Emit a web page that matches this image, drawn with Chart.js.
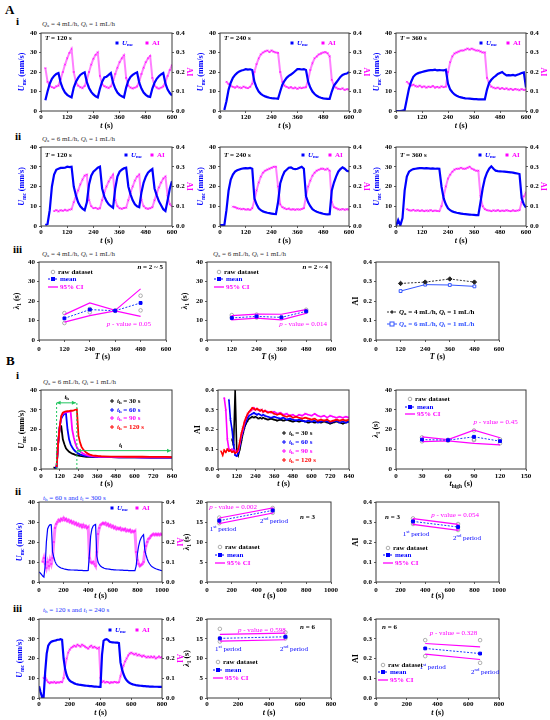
<!DOCTYPE html>
<html><head><meta charset="utf-8">
<script src="https://cdn.jsdelivr.net/npm/chart.js@4.4.1/dist/chart.umd.min.js"></script>
<style>
html,body{margin:0;padding:0;background:#fff;}
body{width:550px;height:720px;position:relative;overflow:hidden;font-family:"Liberation Serif","Times New Roman",serif;}
.pl{position:absolute;font-weight:bold;color:#000;line-height:1;}
.st{position:absolute;font-size:7px;color:#333;line-height:1;white-space:nowrap;}
.st sub{font-size:5px;vertical-align:-1px;line-height:0;}
.bl{color:#2233ff;}
canvas{position:absolute;}
</style></head><body>
<div class="pl" style="left:5px;top:3px;font-size:13px">A</div>
<div class="pl" style="left:16px;top:16px;font-size:11px">i</div>
<div class="st" style="left:42px;top:21px"><i>Q</i><sub>a</sub> = 4 mL/h, <i>Q</i><sub>i</sub> = 1 mL/h</div>
<div class="pl" style="left:15px;top:131px;font-size:11px">ii</div>
<div class="st" style="left:42px;top:136px"><i>Q</i><sub>a</sub> = 6 mL/h, <i>Q</i><sub>i</sub> = 1 mL/h</div>
<div class="pl" style="left:13px;top:244px;font-size:11px">iii</div>
<div class="st" style="left:42px;top:251px"><i>Q</i><sub>a</sub> = 4 mL/h, <i>Q</i><sub>i</sub> = 1 mL/h</div>
<div class="st" style="left:213px;top:251px"><i>Q</i><sub>a</sub> = 6 mL/h, <i>Q</i><sub>i</sub> = 1 mL/h</div>
<div class="pl" style="left:6px;top:354px;font-size:13px">B</div>
<div class="pl" style="left:16px;top:370px;font-size:11px">i</div>
<div class="st" style="left:43px;top:379px"><i>Q</i><sub>a</sub> = 6 mL/h, <i>Q</i><sub>i</sub> = 1 mL/h</div>
<div class="pl" style="left:15px;top:486px;font-size:11px">ii</div>
<div class="st bl" style="left:43px;top:495px"><i>t</i><sub>h</sub> = 60 s and <i>t</i><sub>l</sub> = 300 s</div>
<div class="pl" style="left:13px;top:603px;font-size:11px">iii</div>
<div class="st bl" style="left:43px;top:607px"><i>t</i><sub>h</sub> = 120 s and <i>t</i><sub>l</sub> = 240 s</div>
<script>
// ---------------- DATA ----------------
const T1000=[0,10,20,30,40,50,60,70,80,90,100,110,120,130,140,150,160,170,180,190,200,210,220,230,240,250,260,270,280,290,300,310,320,330,340,350,360,370,380,390,400,410,420,430,440,450,460,470,480,490,500,510,520,530,540,550,560,570,580,590,600,610,620,630,640,650,660,670,680,690,700,710,720,730,740,750,760,770,780,790,800,810,820,830,840,850,860,870,880,890,900,910,920,930,940,950,960,970,980,990,1000];
const T600=T1000.slice(0,61), T800=T1000.slice(0,81);

// A-i  Qa=4, T=120/240/360
const a1U=[null,null,5.5,10,14,16.5,18,19,19.5,14.5, 11.5,9.5,8.3,7.5,7,12,15,17,18.5,19.3, 19.8,14.8,11.8,9.8,8.5,7.5,7,11.5,15,17.2, 17.6,18.5,19.5,14.5,11.5,9.5,8.3,7.5,7,12, 15.5,17.5,18.5,19.3,19.8,14.5,11.5,9.5,8.3,7.5, 7.2,11.5,14.5,16.5,17.8,18.8,19.5,14,11,9.2, 8];
const a1A=[null,null,0.22,0.15,0.13,0.122,0.118,0.126,0.13,0.165, 0.2,0.238,0.27,0.298,0.318,0.2,0.148,0.13,0.122,0.118, 0.128,0.16,0.2,0.238,0.268,0.288,0.3,0.18,0.138,0.127, 0.122,0.118,0.126,0.152,0.19,0.222,0.25,0.27,0.285,0.17, 0.13,0.12,0.116,0.12,0.126,0.152,0.19,0.222,0.25,0.27, 0.282,0.17,0.13,0.12,0.115,0.12,0.126,0.15,0.18,0.21, 0.235];
const a2U=[null,null,0.5,5,11,14.5,17,18.5,19.5,20.3, 20.8,21,21.5,21.2,21.4,21,15,12,10,8.8, 8,7.5,7.1,6.8,6.6,6.5,6.4,6.3,10,13.5, 15.5,17,18,18.7,19.5,20.5,21.5,21.5,21.3,21.5, 21,15,12,10,8.7,7.8,7.2,6.8,6.5,6.3, 6.2,6.2,10,13,14.5,16,17.5,18.5,19,19.2, 20];
const a2A=[null,null,null,0.15,0.138,0.13,0.124,0.12,0.126,0.12, 0.118,0.125,0.12,0.117,0.124,0.14,0.2,0.24,0.27,0.29, 0.3,0.306,0.31,0.302,0.31,0.304,0.3,0.298,0.2,0.15, 0.13,0.124,0.118,0.122,0.116,0.12,0.114,0.12,0.117,0.12, 0.122,0.16,0.21,0.245,0.27,0.28,0.29,0.295,0.3,0.302, 0.296,0.28,0.16,0.13,0.12,0.114,0.112,0.116,0.108,0.112, 0.11];
const a3U=[0,0,0,0.2,0.5,6,11.5,15,17.5,18.7, 19.3,19.7,20,20.3,20.6,20.8,21,21,21.2,20.8, 21,20.9,20.8,21.2,14,11,9.6,8.5,7.8,7.3, 7,6.7,6.5,6.4,6.3,6.2,6.1,6.1,6,6, 6,6,11,14.5,16,17.2,18,19,19.5,20, 19,18.3,18.4,18.3,18.5,18.2,18.6,19,19.5,19.8, 12];
const a3A=[null,null,null,null,null,0.15,0.14,0.13,0.135,0.128, 0.125,0.13,0.122,0.126,0.12,0.125,0.122,0.128,0.12,0.124, 0.12,0.126,0.122,0.125,0.2,0.25,0.28,0.295,0.3,0.305, 0.31,0.31,0.315,0.32,0.315,0.32,0.315,0.31,0.31,0.305, 0.3,0.3,0.17,0.14,0.125,0.12,0.116,0.12,0.113,0.118, 0.112,0.116,0.11,0.114,0.108,0.113,0.11,0.107,0.112,0.108, 0.11];
// A-ii  Qa=6
const b1U=[null,null,0.5,1,8,20,26,28.5,29,29.4, 29.4,29.5,30,29.8,30,20,15.5,12,10,8.8, 8,12,21,25.5,27.5,28.5,29.5,30,19,15, 12.6,11,10,9.2,19,25,27.5,28.5,29.2,29.5, 20,16,13,11,10,9.5,17,22,25,27, 28,28.8,19,15.5,12.5,10.5,8.5,7.6,13,19, 22.7];
const b1A=[null,null,null,null,null,null,0.075,0.08,0.074,0.08, 0.077,0.082,0.078,0.083,0.085,0.12,0.15,0.18,0.21,0.235, 0.255,0.26,0.13,0.1,0.09,0.092,0.087,0.09,0.13,0.17, 0.2,0.225,0.245,0.26,0.13,0.1,0.09,0.087,0.091,0.093, 0.13,0.17,0.2,0.23,0.25,0.26,0.13,0.1,0.09,0.087, 0.09,0.095,0.13,0.165,0.195,0.22,0.24,0.25,0.15,0.11, 0.1];
const b2U=[0.5,0.5,0.3,8,18,23.5,26,27.5,28.2,28.6, 29,29.2,29.3,29.2,29.4,29,14,11,9,8, 7.4,7,6.7,6.5,6.3,6.1,6,12,21.5,25, 27.5,28.5,29.5,29.7,29,28.8,29,29.5,30,29, 15,12,10,8.5,7.8,7.2,6.8,6.5,6.2,6, 5.9,6,18,22,25,27.5,28.8,29.7,29,28, 27.6];
const b2A=[null,null,null,null,null,null,0.098,0.095,0.09,0.088, 0.085,0.087,0.083,0.085,0.082,0.09,0.13,0.18,0.22,0.25, 0.27,0.28,0.285,0.29,0.295,0.3,0.3,0.2,0.11,0.095, 0.09,0.085,0.088,0.083,0.085,0.082,0.085,0.083,0.086,0.09, 0.15,0.2,0.23,0.255,0.27,0.28,0.285,0.29,0.29,0.285, 0.29,0.28,0.12,0.095,0.09,0.085,0.083,0.086,0.082,0.085, 0.083];
const b3U=[0,3,0.3,4,18,25,27.5,28.3,28.8,29, 29.2,29.3,29.3,29.2,29.3,29.2,29.1,29.2,29,29.1, 29,20,14,11,9,8,7.4,7,6.7,6.5, 6.3,6.1,6,5.9,5.8,5.7,5.6,5.5,5.5,12, 19,24,27,29,30.2,29,28,27.8,27.7,27.6, 27.5,27.4,27.3,27.2,27,26.8,26.6,26.3,14,11, 9.3];
const b3A=[null,null,null,null,null,0.085,0.08,0.078,0.082,0.077, 0.08,0.076,0.079,0.075,0.078,0.076,0.08,0.075,0.078,0.076, 0.075,0.1,0.15,0.2,0.24,0.26,0.275,0.285,0.29,0.29, 0.295,0.29,0.29,0.295,0.3,0.29,0.285,0.28,0.28,0.15, 0.1,0.085,0.08,0.078,0.075,0.079,0.076,0.08,0.075,0.078, 0.076,0.08,0.077,0.075,0.079,0.076,0.078,0.08,0.12,0.15, 0.17];
// A-iii
const Tset=[120,240,360,480];
const lam4Mean=[11.1,15.6,15.0,19.0], lam4Up=[13,19,15.2,26.2], lam4Lo=[9.2,12.5,14.9,12.1];
const lam4RawT=[120,120,240,240,360,360,480,480], lam4Raw=[13.8,8.7,15.9,14.2,15.2,14.9,22.7,15.2];
const lam6Mean=[11.3,12.1,11.6,14.7], lam6Up=[12.5,13.3,13.2,15.6], lam6Lo=[10.3,11.2,10.3,13.7];
const lam6RawT=[120,120,240,240,360,480,480], lam6Raw=[12.8,11.5,13,11.5,11.6,15.5,14.5];
const aiQa4=[0.29,0.297,0.313,0.297], aiQa6=[0.251,0.284,0.282,0.275];
// B-i
const tBi1=[80,90,100,110,120,130,140,150,160,170,180,190,200,210,220,230,240,250,260,270,280,290,300,310,320,330,340,350,360,370,380,390,400,450,500,550,600,650,700,750,800,840];
const uTh30=[0.8,0.5,1,13,21,21.5,15,12.5,10.5,9.5, 8.7,8.2,7.8,7.5,7.2,7,6.8,6.6,6.5,6.4, 6.3,6.2,6.2,6.1,6.1,6.1,6,6,6,6, 6,6,6, 6,5.9,5.9,5.9,5.9,5.8,5.8,5.9,5.8];
const uTh60=[null,0.5,1,13,21.5,25.5,27,28,28.3,20, 15,12.5,11,9.8,9,8.3,7.8,7.4,7.1,6.9, 6.7,6.6,6.5,6.4,6.3,6.3,6.2,6.2,6.1,6.1, 6.1,6,6, 6,5.9,5.9,5.9,5.8,5.8,5.8,5.8,5.8];
const uTh90=[null,null,1,13,21.5,26.5,28,28.5,28.7,28.8, 29,29.2,20,16,13,11,9.8,9,8.3,7.8, 7.4,7.1,6.9,6.7,6.6,6.5,6.4,6.3,6.3,6.2, 6.2,6.1,6.1, 6.1,6,6,6,5.9,5.9,5.9,5.9,5.9];
const uTh120=[null,null,1,13,21.5,27,28.5,29,29.2,29.3, 29.3,29.5,29.5,29.7,30,30.2,17,13.5,11.2,10, 9,8.3,7.8,7.4,7.1,6.9,6.8,6.7,6.6,6.5, 6.5,6.4,6.4, 6.3,6.3,6.2,6.2,6.2,6.1,6.1,6.1,6];
const tBi2=[20,30,40,50,60,70,80,90,100,110,120,130,140,150,160,170,180,190,200,210,220,230,240,250,260,270,280,290,300,320,340,360,380,400,420,440,460,480,500,520,540,560,580,600,620,640,660,680,700,720,740,760,780,800,820,840];
const aiTh120=[0.09,0.07,0.095,0.085,0.1,0.09,0.095,0.085,0.09,0.08, 0.085,0.1,0.14,0.18,0.21,0.24,0.26,0.28,0.29,0.3, 0.31,0.305,0.3,0.305,0.3,0.295,0.3,0.29,0.295, 0.285,0.29,0.28,0.275,0.28,0.27,0.265,0.27,0.26,0.265, 0.26,0.255,0.26,0.255,0.25,0.255,0.245,0.25,0.245,0.25, 0.24,0.245,0.25,0.245,0.25,0.245,0.25];
const aiTh90=[null,null,0.36,0.3,0.15,0.1,0.095,0.1,0.09,0.095, 0.085,0.09,0.13,0.17,0.2,0.235,0.26,0.275,0.29,0.295, 0.3,0.31,0.3,0.305,0.3,0.295,0.3,0.29,0.295, 0.29,0.285,0.29,0.28,0.285,0.275,0.28,0.27,0.275,0.265, 0.275,0.27,0.28,0.275,0.27,0.28,0.27,0.265,0.27,0.26, 0.27,0.265,0.26,0.265,0.26,0.265,0.26];
const aiTh60=[null,null,null,null,null,0.35,0.25,0.2,0.12,0.07, 0.065,0.08,0.12,0.16,0.19,0.22,0.24,0.26,0.27,0.275, 0.28,0.285,0.28,0.275,0.28,0.275,0.27,0.275,0.27, 0.265,0.26,0.265,0.26,0.255,0.26,0.25,0.255,0.25,0.245, 0.25,0.245,0.24,0.245,0.24,0.245,0.235,0.24,0.245,0.24, 0.235,0.24,0.245,0.235,0.24,0.235,0.24];
const aiTh30=[null,null,null,null,null,null,null,0.15,0.12,0.4, 0.1,0.07,0.1,0.14,0.18,0.21,0.23,0.245,0.255,0.26, 0.265,0.26,0.265,0.26,0.255,0.26,0.255,0.26,0.255, 0.25,0.255,0.25,0.245,0.25,0.245,0.25,0.245,0.24,0.245, 0.24,0.245,0.24,0.235,0.24,0.235,0.24,0.235,0.24,0.235, 0.23,0.235,0.24,0.235,0.23,0.235,0.24];
const tHigh=[30,60,90,120];
const lamHMean=[14.9,14.6,16.3,14.1], lamHUp=[16.3,14.9,19.7,15.8], lamHLo=[13.9,14.2,13.0,12.2];
const lamHRawT=[30,30,60,60,90,90,90,120,120], lamHRaw=[16,14,14.8,14.3,19.5,15,14.6,15,13];
// B-ii  th=60, tl=300
const c2U=[5,4.5,3.8,3,2.5,8,20,26.5,28,28.7, 28.6,15,12.5,10.3,9,8.2,7.7,7.3,7,6.8, 6.6,6.4,6.3,6.2,6.1,6.1,6,6,6,5.9, 5.9,5.9,5.8,5.8,5.8,5.8,5.7,5.7,5.7,5.7, 5.8,14,23,26.5,28,28.5,28.8,13,10,8.8, 8,7.5,7.2,6.9,6.7,6.6,6.5,6.4,6.3,6.2, 6.2,6.1,6.1,6,6,6,5.9,5.9,5.9,5.8, 5.8,5.8,5.8,5.7,5.7,5.7,5.7,5.7,5.7,8, 14,18,20.5,22,23,23.7,16,13.5,11.5,10, 9,8.2,7.6,7.2,6.9,6.6,6.4,6.2,6,5.8, 5.7];
const c2A=[null,null,null,0.1,0.12,0.09,0.07,0.1,0.08,0.11, 0.09,0.12,0.2,0.27,0.29,0.3,0.31,0.305,0.315,0.31, 0.32,0.31,0.315,0.305,0.31,0.3,0.305,0.295,0.3,0.29, 0.295,0.285,0.29,0.28,0.285,0.275,0.285,0.275,0.28,0.27, 0.275,0.12,0.1,0.095,0.1,0.09,0.08,0.15,0.24,0.27, 0.285,0.29,0.295,0.29,0.295,0.285,0.29,0.28,0.285,0.275, 0.28,0.27,0.275,0.265,0.27,0.265,0.27,0.26,0.265,0.26, 0.265,0.255,0.26,0.255,0.26,0.25,0.255,0.25,0.255,0.15, 0.11,0.09,0.08,0.085,0.09,0.1,0.15,0.18,0.2,0.215, 0.22,0.23,0.235,0.24,0.235,0.24,0.235,0.24,0.235,0.24, 0.235];
const per2T=[99,530], per2Mean=[15.33,17.9], per2Up=[16,18.5], per2Lo=[14.6,17.25];
const per2RawT=[99,99,99,530,530,530], per2Raw=[16.1,15.3,14.7,18.5,17.9,17.3];
const per2AT=[301,667], per2AMean=[0.303,0.275], per2AUp=[0.317,0.288], per2ALo=[0.288,0.258];
const per2ARawT=[301,301,301,667,667,667], per2ARaw=[0.318,0.303,0.29,0.29,0.275,0.26];
// B-iii th=120, tl=240
const c3U=[6,3,0.5,0.5,13,22.5,26.5,27.8,28.5,28.8, 29,29.2,29.5,29.5,29.8,29.5,20,14.5,11.5,9.8, 8.8,8.2,7.8,7.4,7.1,6.9,6.7,6.6,6.5,6.4, 6.3,6.2,6.1,6,6,5.9,5.8,5.8,5.7,5.6, 5.6,22,29,29.6,29.8,29.3,28.5,28.3,28.2,28.1, 28,28,27.8,18,14.5,12,10.2,9,8.2,7.6, 7.2,6.9,6.7,6.5,6.4,6.3,6.2,6.1,6,6, 5.9,5.9,5.8,5.8,5.8,5.7,5.7,5.7,5.6,5.6, 5.6];
const c3A=[null,null,null,0.1,0.11,0.09,0.08,0.075,0.08,0.078, 0.082,0.076,0.08,0.078,0.082,0.08,0.1,0.16,0.2,0.23, 0.245,0.255,0.26,0.265,0.26,0.27,0.265,0.26,0.27,0.265, 0.26,0.255,0.25,0.26,0.265,0.255,0.26,0.255,0.25,0.255, 0.1,0.08,0.085,0.078,0.082,0.08,0.075,0.08,0.078,0.082, 0.08,0.078,0.08,0.11,0.14,0.165,0.185,0.2,0.215,0.225, 0.23,0.225,0.22,0.225,0.215,0.22,0.215,0.21,0.215,0.21, 0.205,0.21,0.205,0.21,0.205,0.21,0.2,0.205,0.21,0.205, 0.208];
const per3T=[83,506], per3Mean=[15.1,15.5], per3Up=[16.1,16.4], per3Lo=[14.4,14.75];
const per3RawT=[83,83,83,506,506,506], per3Raw=[17.5,15.1,14.3,16.6,15.5,15.1];
const per3AT=[320,677], per3AMean=[0.251,0.225], per3AUp=[0.276,0.259], per3ALo=[0.222,0.195];
const per3ARawT=[320,320,677,677], per3ARaw=[0.293,0.212,0.293,0.178];
// annotation values for B-i (t_h / t_l spans)
const thSpan=[100,230], thY=33.5, tlSpan=[230,840], tlY=9.3;

// ---------------- HELPERS ----------------
const F='"Liberation Serif","Times New Roman",serif';
const BLUE='#0000ff', MAG='#ff00ff', RED='#ff0000', GRN='#22c55e';
function parseRich(str){const segs=[];let i=0,it=false,buf='';
 const push=()=>{if(buf){segs.push({t:buf,i:it});buf='';}};
 while(i<str.length){const ch=str[i];
  if(ch==='*'){push();it=!it;i++;}
  else if((ch==='_'||ch==='^')&&str[i+1]==='{'){push();const j=str.indexOf('}',i);const s={t:str.slice(i+2,j),i:it};s[ch==='_'?'sub':'sup']=true;segs.push(s);i=j+1;}
  else{buf+=ch;i++;}}
 push();return segs;}
function drawRich(ctx,x,y,str,o){o=o||{};const size=o.size||7,bold=o.bold!==false,segs=parseRich(str);
 const font=s=>(s.i?'italic ':'')+(bold?'bold ':'')+((s.sub||s.sup)?(size*0.68).toFixed(1):size)+'px '+F;
 ctx.save();ctx.translate(x,y);if(o.rot)ctx.rotate(o.rot*Math.PI/180);
 let w=0;segs.forEach(s=>{ctx.font=font(s);w+=ctx.measureText(s.t).width;});
 let cx=o.al==='c'?-w/2:o.al==='r'?-w:0;ctx.textBaseline='middle';ctx.fillStyle=o.c||'#000';
 segs.forEach(s=>{ctx.font=font(s);const dy=s.sub?size*0.3:s.sup?-size*0.32:0;ctx.fillText(s.t,cx,dy);cx+=ctx.measureText(s.t).width;});
 ctx.restore();}
function marker(ctx,m,x,y,c){ctx.save();ctx.strokeStyle=c||'#000';ctx.fillStyle=c||'#000';ctx.lineWidth=1;
 if(m==='sq'){ctx.fillRect(x-1.5,y-1.5,3,3);}
 else if(m==='plus'){ctx.beginPath();ctx.moveTo(x-2,y);ctx.lineTo(x+2,y);ctx.moveTo(x,y-2);ctx.lineTo(x,y+2);ctx.stroke();}
 else if(m==='circ'){ctx.strokeStyle='#999';ctx.lineWidth=0.8;ctx.beginPath();ctx.arc(x,y,1.8,0,7);ctx.stroke();}
 else if(m==='mean'){ctx.setLineDash([2,1.5]);ctx.beginPath();ctx.moveTo(x-5,y);ctx.lineTo(x+5,y);ctx.stroke();ctx.setLineDash([]);ctx.fillRect(x-2,y-2,4,4);}
 else if(m==='ci'){ctx.lineWidth=1.3;ctx.beginPath();ctx.moveTo(x-5,y);ctx.lineTo(x+5,y);ctx.stroke();}
 else if(m==='dd'){ctx.setLineDash([2,1.5]);ctx.beginPath();ctx.moveTo(x-5,y);ctx.lineTo(x+5,y);ctx.stroke();ctx.setLineDash([]);ctx.beginPath();ctx.moveTo(x,y-2);ctx.lineTo(x+2,y);ctx.lineTo(x,y+2);ctx.lineTo(x-2,y);ctx.closePath();ctx.fill();}
 else if(m==='ls'){ctx.beginPath();ctx.moveTo(x-5,y);ctx.lineTo(x+5,y);ctx.stroke();ctx.fillStyle='#fff';ctx.fillRect(x-2,y-2,4,4);ctx.strokeRect(x-2,y-2,4,4);}
 ctx.restore();}
// span annotations (drawn from data values through the chart's scales)
function drawSpans(ctx,sc){const X=v=>sc.x.getPixelForValue(v),Y=v=>sc.y.getPixelForValue(v);
 ctx.save();ctx.strokeStyle=GRN;ctx.fillStyle=GRN;ctx.lineWidth=1;ctx.setLineDash([2,2]);
 thSpan.forEach(v=>{ctx.beginPath();ctx.moveTo(X(v),Y(0));ctx.lineTo(X(v),Y(thY));ctx.stroke();});
 ctx.setLineDash([]);
 [[thSpan,thY],[tlSpan,tlY]].forEach(([sp,yy])=>{const x1=X(sp[0]),x2=X(sp[1])-1,y=Y(yy);ctx.beginPath();ctx.moveTo(x1,y);ctx.lineTo(x2,y);ctx.stroke();
  [[x1,1],[x2,-1]].forEach(([x,d])=>{ctx.beginPath();ctx.moveTo(x,y);ctx.lineTo(x+4*d,y-2);ctx.lineTo(x+4*d,y+2);ctx.closePath();ctx.fill();});});
 ctx.restore();}
const deco={id:'deco',afterDatasetsDraw(chart){
 const o=chart.options.plugins.deco;if(!o)return;const ctx=chart.ctx,a=chart.chartArea,sc=chart.scales;
 ctx.save();
 if(o.spans)drawSpans(ctx,sc);
 ctx.strokeStyle='#3a3a3a';ctx.lineWidth=1;ctx.strokeRect(a.left,a.top,a.right-a.left,a.bottom-a.top);
 const my=(a.top+a.bottom)/2,mx=(a.left+a.right)/2;
 if(o.tl)drawRich(ctx,a.left-(o.tl.d||20),my,o.tl.s,{rot:-90,al:'c',c:o.tl.c,size:8});
 if(o.tr)drawRich(ctx,a.right+(o.tr.d||17),my,o.tr.s,{rot:90,al:'c',c:o.tr.c,size:8});
 if(o.tb)drawRich(ctx,mx,a.bottom+(o.tb.d||15),o.tb.s,{al:'c',size:8});
 (o.texts||[]).forEach(t=>{let x,y;if(t.ax){x=sc.x.getPixelForValue(t.x);y=sc[t.ax].getPixelForValue(t.y);}else{x=t.px<0?a.right+t.px:a.left+t.px;y=a.top+t.py;}
  drawRich(ctx,x,y,t.s,{al:t.al||'l',c:t.c,size:t.size||7,bold:t.b});});
 (o.legend||[]).forEach(l=>{const x=a.left+l.dx,y=a.top+l.dy;marker(ctx,l.m,x,y,l.c);drawRich(ctx,x+(l.tx||5),y,l.s,{c:l.tc||'#000',size:7});});
 ctx.restore();}};
Chart.register(deco);
const tickFont={family:F,size:7,weight:'bold'};
const gridT={display:true,drawOnChartArea:false,drawTicks:true,tickLength:2,color:'#333',lineWidth:0.8};
function xs(max,step,pad){return {type:'linear',min:0,max:max,ticks:{stepSize:step,font:tickFont,color:'#000',padding:pad||0,maxRotation:0,autoSkip:false,callback:v=>String(Math.round(v))},grid:gridT,border:{display:false},afterFit(s){s.height=24;}};}
function ys(max,step,dec,pos){return {type:'linear',position:pos,min:0,max:max,ticks:{stepSize:step,font:tickFont,color:'#000',padding:2,autoSkip:false,callback:v=>dec?Number(v).toFixed(dec):String(Math.round(v))},grid:gridT,border:{display:false},afterFit(s){s.width=40;}};}
const ser=(xa,ya)=>xa.map((x,i)=>({x:x,y:(ya[i]===undefined?null:ya[i])}));
function mk(box,datasets,scales,dec){const [L,T,R,B]=box;const cv=document.createElement('canvas');
 const W=(R-L)+80,H=(B-T)+8+24;cv.width=W;cv.height=H;cv.style.left=(L-40)+'px';cv.style.top=(T-8)+'px';cv.style.width=W+'px';cv.style.height=H+'px';
 document.body.appendChild(cv);
 new Chart(cv,{type:'scatter',data:{datasets:datasets},options:{responsive:false,animation:false,events:[],
  layout:{padding:{left:0,top:8,right:scales.y1?0:40,bottom:0}},scales:scales,
  plugins:{legend:{display:false},tooltip:{enabled:false},deco:dec}}});}
function uSet(t,u,w){return {data:ser(t,u),yAxisID:'y',showLine:true,borderColor:BLUE,borderWidth:w||2.2,pointRadius:0};}
function aSet(t,v,w){return {data:ser(t,v),yAxisID:'y1',showLine:true,borderColor:'rgba(255,0,255,0.5)',borderWidth:w||2,pointRadius:1.2,pointStyle:'crossRot',pointBorderColor:MAG,pointBorderWidth:0.7};}
function tsChart(box,o){
 mk(box,[uSet(o.t,o.U,o.uw),aSet(o.t,o.A,o.aw)],{x:xs(o.xmax,o.xstep,o.xtp),y:ys(40,10,0,'left'),y1:ys(0.4,0.1,1,'right')},
  {tl:{s:'*U*_{mc} (mm/s)',c:BLUE,d:19},tr:{s:'AI',c:MAG},tb:{s:'*t* (s)',d:o.tbd||15},texts:o.texts||[],
   legend:[{m:'sq',c:BLUE,dx:o.lx[0],dy:o.ly,s:'*U*_{mc}',tc:BLUE},{m:'sq',c:MAG,dx:o.lx[1],dy:o.ly,s:'AI',tc:MAG}]});}
function statSets(x,mean,up,lo,rx,ry,closed){const d=[
 {data:ser(x,mean),showLine:true,borderColor:'#1a3cff',borderDash:[2,1.5],borderWidth:1,pointRadius:2,pointStyle:'rect',pointBackgroundColor:BLUE,pointBorderColor:BLUE}];
 if(closed){const rx2=x.slice().reverse(),lo2=lo.slice().reverse();
  d.push({data:ser(x.concat(rx2,[x[0]]),up.concat(lo2,[up[0]])),showLine:true,borderColor:MAG,borderWidth:1.2,pointRadius:0});}
 else{d.push({data:ser(x,up),showLine:true,borderColor:MAG,borderWidth:1.2,pointRadius:0});
  d.push({data:ser(x,lo),showLine:true,borderColor:MAG,borderWidth:1.2,pointRadius:0});}
 if(rx)d.push({data:ser(rx,ry),showLine:false,pointRadius:1.8,pointStyle:'circle',pointBorderColor:'#9a9a9a',pointBackgroundColor:'rgba(0,0,0,0)',pointBorderWidth:0.8});
 return d;}
function statLegend(dx,dys){return [{m:'circ',dx:dx,dy:dys[0],s:'raw dataset'},{m:'mean',c:BLUE,dx:dx,dy:dys[1],s:'mean',tc:BLUE,tx:7},{m:'ci',c:MAG,dx:dx,dy:dys[2],s:'95% CI',tc:MAG,tx:7}];}

// ---------------- A-i ----------------
tsChart([41,33,172,111],{t:T600,U:a1U,A:a1A,xmax:600,xstep:120,lx:[76,106],ly:10,texts:[{s:'*T* = 120 s',px:4,py:5}]});
tsChart([220,33,349,111],{t:T600,U:a2U,A:a2A,xmax:600,xstep:120,lx:[72,103],ly:10,texts:[{s:'*T* = 240 s',px:4,py:5}]});
tsChart([396,33,526,111],{t:T600,U:a3U,A:a3A,xmax:600,xstep:120,lx:[85,112],ly:10,texts:[{s:'*T* = 360 s',px:4,py:5}]});
// ---------------- A-ii ----------------
tsChart([41,147,172,226],{t:T600,U:b1U,A:b1A,xmax:600,xstep:120,lx:[85,111],ly:8,texts:[{s:'*T* = 120 s',px:4,py:8}]});
tsChart([220,147,349,226],{t:T600,U:b2U,A:b2A,xmax:600,xstep:120,lx:[83,110],ly:8,texts:[{s:'*T* = 240 s',px:4,py:8}]});
tsChart([396,147,526,226],{t:T600,U:b3U,A:b3A,xmax:600,xstep:120,lx:[84,111],ly:8,texts:[{s:'*T* = 360 s',px:4,py:8}]});
// ---------------- A-iii ----------------
mk([39,262,166,340],statSets(Tset,lam4Mean,lam4Up,lam4Lo,lam4RawT,lam4Raw,false),{x:xs(600,120,3),y:ys(40,10,0,'left')},
 {tl:{s:'*λ*_{1} (s)',d:22},tb:{s:'*T* (s)',d:17},legend:statLegend(14,[10,17,25]),
  texts:[{s:'*n* = 2 ~ 5',px:-3,py:5,al:'r'},{s:'*p* - value = 0.05',ax:'y',x:425,y:8.2,al:'c',c:MAG,b:false}]});
mk([207,262,331,340],statSets(Tset,lam6Mean,lam6Up,lam6Lo,lam6RawT,lam6Raw,true),{x:xs(600,120,3),y:ys(40,10,0,'left')},
 {tl:{s:'*λ*_{1} (s)',d:22},tb:{s:'*T* (s)',d:17},legend:statLegend(12,[10,17,25]),
  texts:[{s:'*n* = 2 ~ 4',px:-3,py:5,al:'r'},{s:'*p* - value = 0.014',ax:'y',x:465,y:8.2,al:'c',c:MAG,b:false}]});
mk([376,262,499,340],[
  {data:ser(Tset,aiQa4),showLine:true,borderColor:'#333',borderDash:[2,1.5],borderWidth:1,pointRadius:2.2,pointStyle:'rectRot',pointBackgroundColor:'#222',pointBorderColor:'#222'},
  {data:ser(Tset,aiQa6),showLine:true,borderColor:'#3355ff',borderWidth:1,pointRadius:2,pointStyle:'rect',pointBackgroundColor:'#fff',pointBorderColor:'#3355ff',pointBorderWidth:1}],
 {x:xs(600,120,3),y:ys(0.4,0.1,1,'left')},
 {tl:{s:'AI',d:20},tb:{s:'*T* (s)',d:17},
  legend:[{m:'dd',c:'#333',dx:16,dy:50,s:'*Q*_{a} = 4 mL/h, *Q*_{i} = 1 mL/h',tx:7},{m:'ls',c:'#3355ff',dx:16,dy:62,s:'*Q*_{a} = 6 mL/h, *Q*_{i} = 1 mL/h',tc:'#3355ff',tx:7}]});
// ---------------- B-i ----------------
function lineSet(t,v,c,w){return {data:ser(t,v),showLine:true,borderColor:c,borderWidth:w||1.8,pointRadius:0};}
mk([41,390,172,469],[lineSet(tBi1,uTh120,RED),lineSet(tBi1,uTh90,MAG),lineSet(tBi1,uTh60,BLUE),lineSet(tBi1,uTh30,'#000')],
 {x:xs(840,120,1),y:ys(40,10,0,'left')},
 {tl:{s:'*U*_{mc} (mm/s)',d:19},tb:{s:'*t* (s)'},spans:true,
  legend:[{m:'plus',c:'#000',dx:71,dy:11,s:'*t*_{h} = 30 s'},{m:'plus',c:BLUE,dx:71,dy:20,s:'*t*_{h} = 60 s',tc:BLUE},{m:'plus',c:MAG,dx:71,dy:28,s:'*t*_{h} = 90 s',tc:MAG},{m:'plus',c:RED,dx:71,dy:37,s:'*t*_{h} = 120 s',tc:RED}],
  texts:[{s:'*t*_{h}',ax:'y',x:(thSpan[0]+thSpan[1])/2,y:thY+3,al:'c'},{s:'*t*_{l}',ax:'y',x:510,y:tlY+3,al:'c'}]});
function aiLine(t,v,c){return {data:ser(t,v),showLine:true,borderColor:c,borderWidth:1.6,pointRadius:1.1,pointStyle:'crossRot',pointBorderColor:c,pointBorderWidth:0.7};}
mk([218,390,349,469],[aiLine(tBi2,aiTh120,RED),aiLine(tBi2,aiTh90,MAG),aiLine(tBi2,aiTh60,BLUE),aiLine(tBi2,aiTh30,'#000')],
 {x:xs(840,120,1),y:ys(0.4,0.1,1,'left')},
 {tl:{s:'AI',d:20},tb:{s:'*t* (s)'},
  legend:[{m:'plus',c:'#000',dx:66,dy:43,s:'*t*_{h} = 30 s'},{m:'plus',c:BLUE,dx:66,dy:52,s:'*t*_{h} = 60 s',tc:BLUE},{m:'plus',c:MAG,dx:66,dy:61,s:'*t*_{h} = 90 s',tc:MAG},{m:'plus',c:RED,dx:66,dy:70,s:'*t*_{h} = 120 s',tc:RED}]});
mk([396,390,526,469],statSets(tHigh,lamHMean,lamHUp,lamHLo,lamHRawT,lamHRaw,false),{x:xs(150,30,1),y:ys(40,10,0,'left')},
 {tl:{s:'*λ*_{1} (s)',d:20},tb:{s:'*t*_{high} (s)'},legend:statLegend(14,[9,17,24]),
  texts:[{s:'*p* - value = 0.45',ax:'y',x:115,y:23.6,al:'c',c:MAG,b:false}]});
// ---------------- B-ii ----------------
tsChart([39,502,162,582],{t:T1000,U:c2U,A:c2A,xmax:1000,xstep:200,xtp:2,uw:1.2,aw:3,lx:[73,98],ly:6,tbd:14});
mk([207,502,331,582],statSets(per2T,per2Mean,per2Up,per2Lo,per2RawT,per2Raw,true),{x:xs(1000,200,2),y:ys(20,5,0,'left')},
 {tl:{s:'*λ*_{1} (s)',d:20},tb:{s:'*t* (s)',d:14},legend:statLegend(13,[45,53,61]),
  texts:[{s:'*n* = 3',px:-16,py:15,al:'r'},{s:'*p* - value = 0.002',ax:'y',x:210,y:18.6,al:'c',c:MAG,b:false},
   {s:'1^{st} period',ax:'y',x:129,y:13.2,al:'c',c:BLUE,b:false},{s:'2^{nd} period',ax:'y',x:540,y:15.3,al:'c',c:BLUE,b:false}]});
mk([376,502,499,582],statSets(per2AT,per2AMean,per2AUp,per2ALo,per2ARawT,per2ARaw,true),{x:xs(1000,200,2),y:ys(0.4,0.1,1,'left')},
 {tl:{s:'AI',d:20},tb:{s:'*t* (s)',d:14},legend:statLegend(12,[46,53,61]),
  texts:[{s:'*n* = 3',px:9,py:15},{s:'*p* - value = 0.054',ax:'y',x:643,y:0.333,al:'c',c:MAG,b:false},
   {s:'1^{st} period',ax:'y',x:325,y:0.24,al:'c',c:BLUE,b:false},{s:'2^{nd} period',ax:'y',x:740,y:0.22,al:'c',c:BLUE,b:false}]});
// ---------------- B-iii ----------------
tsChart([39,619,162,698],{t:T800,U:c3U,A:c3A,xmax:800,xstep:200,xtp:0,lx:[71,98],ly:11});
mk([207,619,331,698],statSets(per3T,per3Mean,per3Up,per3Lo,per3RawT,per3Raw,false),{x:xs(800,200,0),y:ys(20,5,0,'left')},
 {tl:{s:'*λ*_{1} (s)',d:20},tb:{s:'*t* (s)'},legend:statLegend(11,[43,51,59]),
  texts:[{s:'*n* = 6',px:-16,py:8,al:'r'},{s:'*p* - value = 0.598',ax:'y',x:354,y:17.2,al:'c',c:MAG,b:false},
   {s:'1^{st} period',ax:'y',x:137,y:12.4,al:'c',c:BLUE,b:false},{s:'2^{nd} period',ax:'y',x:561,y:12.4,al:'c',c:BLUE,b:false}]});
mk([376,619,499,698],statSets(per3AT,per3AMean,per3AUp,per3ALo,per3ARawT,per3ARaw,false),{x:xs(800,200,0),y:ys(0.4,0.1,1,'left')},
 {tl:{s:'AI',d:20},tb:{s:'*t* (s)'},legend:statLegend(7,[46,53,61]),
  texts:[{s:'*n* = 6',px:6,py:8},{s:'*p* - value = 0.328',ax:'y',x:504,y:0.327,al:'c',c:MAG,b:false},
   {s:'1^{st} period',ax:'y',x:368,y:0.158,al:'c',c:BLUE,b:false},{s:'2^{nd} period',ax:'y',x:709,y:0.132,al:'c',c:BLUE,b:false}]});
</script></body></html>
